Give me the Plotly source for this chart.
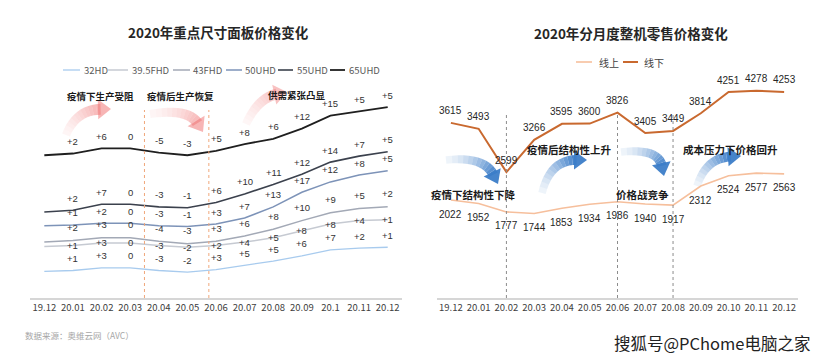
import math
import plotly.graph_objects as go

# ---------------- data ----------------
months_left = ["19.12", "20.01", "20.02", "20.03", "20.04", "20.05", "20.06",
               "20.07", "20.08", "20.09", "20.1", "20.11", "20.12"]
months_right = ["19.12", "20.01", "20.02", "20.03", "20.04", "20.05", "20.06",
                "20.07", "20.08", "20.09", "20.10", "20.11", "20.12"]

panel_names = ["32HD", "39.5FHD", "43FHD", "50UHD", "55UHD", "65UHD"]
p32 = [31, 32, 35, 35, 32, 30, 33, 38, 43, 49, 56, 58, 59]
p395 = [60, 61, 64, 64, 61, 59, 61, 65, 70, 78, 86, 90, 91]
p43 = [65, 67, 70, 70, 66, 63, 66, 72, 80, 90, 99, 104, 106]
p50 = [84, 85, 87, 87, 84, 83, 86, 93, 106, 123, 135, 143, 148]
p55 = [100, 102, 109, 109, 106, 105, 111, 121, 132, 144, 158, 165, 170]
p65 = [166, 168, 174, 174, 169, 166, 171, 179, 185, 197, 212, 217, 222]

chg32 = ["", "+1", "+3", "0", "-3", "-2", "+3", "+5", "+5", "+6", "+7", "+2", "+1"]
chg395 = ["", "+1", "+3", "0", "-3", "-2", "+2", "+4", "+5", "+8", "+8", "+4", "+1"]
chg43 = ["", "+2", "+3", "0", "-4", "-3", "+3", "+6", "+8", "+10", "+9", "+5", "+2"]
chg50 = ["", "+1", "+2", "0", "-3", "-1", "+3", "+7", "+13", "+17", "+12", "+8", "+5"]
chg55 = ["", "+2", "+7", "0", "-3", "-1", "+6", "+10", "+11", "+12", "+14", "+7", "+5"]
chg65 = ["", "+2", "+6", "0", "-5", "-3", "+5", "+8", "+6", "+12", "+15", "+5", "+5"]

retail_names = ["线上", "线下"]
online = [2022, 1952, 1777, 1744, 1853, 1934, 1986, 1940, 1917, 2312, 2524, 2577, 2563]
offline = [3615, 3493, 2599, 3266, 3595, 3600, 3826, 3405, 3449, 3814, 4251, 4278, 4253]

left_phases = ["疫情下生产受阻", "疫情后生产恢复", "供需紧张凸显"]
right_phases = ["疫情下结构性下降", "疫情后结构性上升", "价格战竞争", "成本压力下价格回升"]

# ---------------- page geometry ----------------
# the page body has an 8px default margin; figure is sized to fill the rest
OFF = 8
W, H = 830 - OFF, 364 - OFF


def px(x):
    return (x - OFF) / W


def py(y):
    return 1 - (y - OFF) / H


def P(pt):
    return f"{px(pt[0]):.5f},{py(pt[1]):.5f}"


# ---------------- styles ----------------
CJK = "Noto Sans CJK SC"
NUM = "Liberation Sans"
left_colors = ["#a8cbee", "#c6cad2", "#a3a9b6", "#7d93b8", "#3b414d", "#1f1f1f"]
left_widths = [1.3, 1.5, 1.5, 1.5, 1.6, 1.8]
left_label_shift = [12, 0, 13, 12, 12, 12]
right_colors = ["#f6bf9c", "#c9692f"]
right_widths = [1.6, 2.0]
right_shift = [-14, 12]

fig = go.Figure()

# ---- left chart lines ----
left_vals = [p32, p395, p43, p50, p55, p65]
left_chg = [chg32, chg395, chg43, chg50, chg55, chg65]
for i, name in enumerate(panel_names):
    fig.add_trace(go.Scatter(
        x=months_left, y=left_vals[i], mode="lines", name=name,
        line=dict(color=left_colors[i], width=left_widths[i]),
        xaxis="x", yaxis="y", showlegend=False, hoverinfo="skip"))
for i, name in enumerate(panel_names):
    for k, (v, t) in enumerate(zip(left_vals[i], left_chg[i])):
        if t:
            fig.add_annotation(x=k, y=v, xref="x", yref="y", text=t,
                               showarrow=False, yshift=left_label_shift[i],
                               xanchor="center", yanchor="middle",
                               font=dict(family=NUM, size=9.5, color="#333333"))

# ---- right chart lines ----
right_vals = [online, offline]
for i, name in enumerate(retail_names):
    fig.add_trace(go.Scatter(
        x=months_right, y=right_vals[i], mode="lines", name=name,
        line=dict(color=right_colors[i], width=right_widths[i]),
        xaxis="x2", yaxis="y2", showlegend=False, hoverinfo="skip"))
    for k, v in enumerate(right_vals[i]):
        fig.add_annotation(x=k, y=v, xref="x2", yref="y2", text=str(v),
                           showarrow=False, yshift=right_shift[i],
                           xanchor="center", yanchor="middle",
                           font=dict(family=NUM, size=10, color="#262626"))

# ---- manual legends ----
left_leg_x = [(63, 80, 82), (108, 128, 130), (173, 190, 191),
              (226, 242, 243), (278, 293, 295), (330, 345, 347)]
for i, name in enumerate(panel_names):
    x0, x1, xt = left_leg_x[i]
    fig.add_shape(type="line", xref="paper", yref="paper",
                  x0=px(x0), x1=px(x1), y0=py(70), y1=py(70),
                  line=dict(color=left_colors[i], width=left_widths[i]))
    fig.add_annotation(x=px(xt), y=py(70), xref="paper", yref="paper",
                       text=name, showarrow=False, xanchor="left", yanchor="middle",
                       font=dict(family=CJK, size=9.5, color="#595959"))
right_leg_x = [(576, 592, 597), (623, 638, 642)]
for i, name in enumerate(retail_names):
    x0, x1, xt = right_leg_x[i]
    fig.add_shape(type="line", xref="paper", yref="paper",
                  x0=px(x0), x1=px(x1), y0=py(62), y1=py(62),
                  line=dict(color=right_colors[i], width=right_widths[i]))
    fig.add_annotation(x=px(xt), y=py(62), xref="paper", yref="paper",
                       text=name, showarrow=False, xanchor="left", yanchor="middle",
                       font=dict(family=CJK, size=10, color="#404040"))

# ---- titles ----
fig.add_annotation(x=px(218), y=py(32), xref="paper", yref="paper",
                   text="<b>2020年重点尺寸面板价格变化</b>", showarrow=False,
                   xanchor="center", yanchor="middle",
                   font=dict(family=CJK, size=13.5, color="#262626"))
fig.add_annotation(x=px(631), y=py(33), xref="paper", yref="paper",
                   text="<b>2020年分月度整机零售价格变化</b>", showarrow=False,
                   xanchor="center", yanchor="middle",
                   font=dict(family=CJK, size=13.5, color="#262626"))

# ---- phase labels ----
left_phase_pos = [(100, 96), (180, 96), (297, 95)]
for t, (x, y) in zip(left_phases, left_phase_pos):
    fig.add_annotation(x=px(x), y=py(y), xref="paper", yref="paper",
                       text=f"<b>{t}</b>", showarrow=False,
                       xanchor="center", yanchor="middle",
                       font=dict(family=CJK, size=9.5, color="#1a1a1a"))
right_phase_pos = [(473, 194), (569, 149), (642, 194), (730, 149)]
for t, (x, y) in zip(right_phases, right_phase_pos):
    fig.add_annotation(x=px(x), y=py(y), xref="paper", yref="paper",
                       text=f"<b>{t}</b>", showarrow=False,
                       xanchor="center", yanchor="middle",
                       font=dict(family=CJK, size=10.5, color="#1a1a1a"))

# ---- vertical dividers ----
for xv in [3.5, 5.75]:
    fig.add_shape(type="line", xref="x", yref="paper", x0=xv, x1=xv,
                  y0=py(298), y1=py(110),
                  line=dict(color="#f0a77a", width=1, dash="dot"))
for xv in [2, 6, 8]:
    fig.add_shape(type="line", xref="x2", yref="paper", x0=xv, x1=xv,
                  y0=py(298), y1=py(112),
                  line=dict(color="#8c8c8c", width=1, dash="dot"))


# ---- decorative curved arrows ----
def qb(p0, p1, p2, t):
    return ((1 - t) ** 2 * p0[0] + 2 * (1 - t) * t * p1[0] + t * t * p2[0],
            (1 - t) ** 2 * p0[1] + 2 * (1 - t) * t * p1[1] + t * t * p2[1])


def qbd(p0, p1, p2, t):
    return (2 * (1 - t) * (p1[0] - p0[0]) + 2 * t * (p2[0] - p1[0]),
            2 * (1 - t) * (p1[1] - p0[1]) + 2 * t * (p2[1] - p1[1]))


def add_arrow(tail, ctrl, tip, bw, hl, hw, rgb, amax, n=12):
    dx, dy = tip[0] - ctrl[0], tip[1] - ctrl[1]
    L = math.hypot(dx, dy)
    ux, uy = dx / L, dy / L
    base = (tip[0] - ux * hl * 0.8, tip[1] - uy * hl * 0.8)
    pts, nrm = [], []
    for k in range(n + 1):
        t = k / n
        p = qb(tail, ctrl, base, t)
        d = qbd(tail, ctrl, base, t)
        dl = math.hypot(*d) or 1
        pts.append(p)
        w = bw * (0.75 + 0.25 * t) / 2
        nrm.append((-d[1] / dl * w, d[0] / dl * w))
    for k in range(n):
        a = (pts[k][0] + nrm[k][0], pts[k][1] + nrm[k][1])
        b = (pts[k + 1][0] + nrm[k + 1][0], pts[k + 1][1] + nrm[k + 1][1])
        c = (pts[k + 1][0] - nrm[k + 1][0], pts[k + 1][1] - nrm[k + 1][1])
        d = (pts[k][0] - nrm[k][0], pts[k][1] - nrm[k][1])
        alpha = 0.05 + (amax - 0.05) * ((k + 1) / n) ** 1.3
        fig.add_shape(type="path", xref="paper", yref="paper", layer="below",
                      path=f"M {P(a)} L {P(b)} L {P(c)} L {P(d)} Z",
                      fillcolor=f"rgba({rgb},{alpha:.3f})", line=dict(width=0))
    hb = (tip[0] - ux * hl, tip[1] - uy * hl)
    nx, ny = -uy, ux
    c1 = (hb[0] + nx * hw / 2, hb[1] + ny * hw / 2)
    c2 = (hb[0] - nx * hw / 2, hb[1] - ny * hw / 2)
    fig.add_shape(type="path", xref="paper", yref="paper", layer="below",
                  path=f"M {P(tip)} L {P(c1)} L {P(c2)} Z",
                  fillcolor=f"rgba({rgb},{amax})", line=dict(width=0))


pink = "240,120,120"
add_arrow((66, 135), (76, 110), (111, 109), 11, 13, 20, pink, 0.55)
add_arrow((150, 114), (188, 108), (203, 132), 11, 13, 20, pink, 0.55)
add_arrow((246, 124), (258, 98), (287, 92), 11, 13, 20, pink, 0.45)
blue = "60,125,200"
add_arrow((446, 160), (484, 156), (498, 184), 10, 13, 19, blue, 0.95)
add_arrow((542, 193), (550, 160), (587, 160), 10, 13, 19, blue, 0.95)
add_arrow((621, 152), (658, 148), (664, 176), 10, 13, 19, blue, 0.95)
add_arrow((697, 186), (706, 158), (741, 156), 10, 13, 19, blue, 0.95)

# ---- footer texts ----
fig.add_annotation(x=px(23), y=py(335), xref="paper", yref="paper",
                   text="数据来源：奥维云网（AVC）", showarrow=False,
                   xanchor="left", yanchor="middle",
                   font=dict(family=CJK, size=8.5, color="#a6a6a6"))
fig.add_annotation(x=px(813), y=py(343), xref="paper", yref="paper",
                   text="搜狐号@PChome电脑之家", showarrow=False,
                   xanchor="right", yanchor="middle",
                   font=dict(family=CJK, size=16.5, color="#222222"))

axis_common = dict(type="category", range=[-0.5, 12.5], showline=True,
                   linecolor="#d6d6d6", linewidth=1.5, ticks="", showgrid=False,
                   zeroline=False, fixedrange=True,
                   tickfont=dict(family=CJK, size=9.5, color="#404040"))
ydom = [py(298), py(80)]
fig.update_layout(
    width=W, height=H, margin=dict(l=0, r=0, t=0, b=0),
    paper_bgcolor="white", plot_bgcolor="rgba(0,0,0,0)",
    showlegend=False,
    xaxis=dict(domain=[px(30), px(402)], anchor="y", **axis_common),
    yaxis=dict(domain=ydom, range=[0, 218 / 0.86], visible=False, anchor="x"),
    xaxis2=dict(domain=[px(437), px(798)], anchor="y2", **axis_common),
    yaxis2=dict(domain=ydom, range=[0, 4500], visible=False, anchor="x2"),
)

fig.write_html("out.html")
